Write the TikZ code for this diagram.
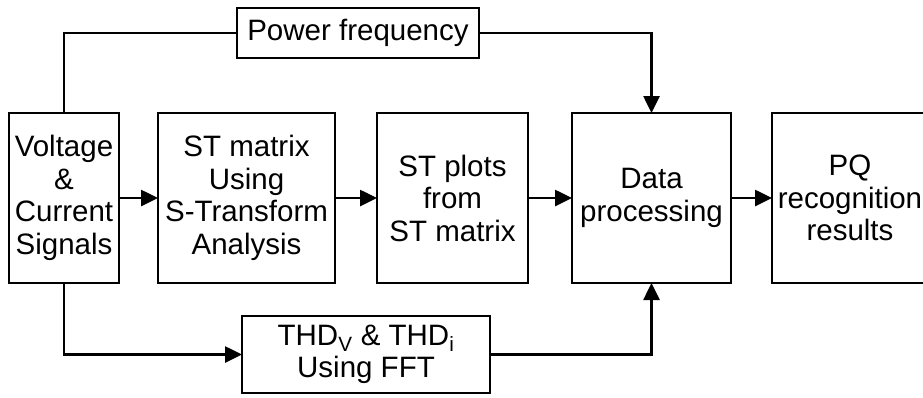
\documentclass[tikz,border=0pt]{standalone}
\usepackage{fontspec}
\setmainfont{Liberation Sans}
\usetikzlibrary{arrows.meta}

\begin{document}
\begin{tikzpicture}[x=1pt, y=-1pt,
    blk/.style={draw, line width=2.6pt, align=center, inner sep=0pt, outer sep=0pt,
        font=\fontsize{29.5}{32.5}\selectfont},
    flow/.style={line width=2.6pt, -{Triangle[length=17pt,width=16pt]}},
    link/.style={line width=2.6pt}]
    \useasboundingbox (0,0) rectangle (923,397);

    % Main chain
    \node[blk, minimum width=110pt, minimum height=170pt] (volt) at (64,198) {Voltage\\\&\\Current\\Signals};
    \node[blk, minimum width=177pt, minimum height=170pt] (stmat) at (246.5,198) {ST matrix\\Using\\S-Transform\\Analysis};
    \node[blk, minimum width=151pt, minimum height=170pt] (stplot) at (452.5,198) {ST plots\\from\\ST matrix};
    \node[blk, minimum width=159pt, minimum height=170pt] (dproc) at (651.5,198) {Data\\processing};
    \node[blk, minimum width=156pt, minimum height=170pt] (pqres) at (850,198) {PQ\\recognition\\results};

    % Side branches
    \node[blk, minimum width=242pt, minimum height=50pt] (pwrf) at (358,33) {Power frequency};
    \node[blk, minimum width=248pt, minimum height=77pt] (thd) at (366,354.5) {THD\textsubscript{V} \& THD\textsubscript{i}\\Using FFT};

    % Arrows
    \draw[flow] (volt) -- (stmat);
    \draw[flow] (stmat) -- (stplot);
    \draw[flow] (stplot) -- (dproc);
    \draw[flow] (dproc) -- (pqres);

    \draw[link] (volt.north) |- (pwrf.west);
    \draw[flow] (pwrf.east) -| (dproc.north);
    \draw[flow] (volt.south) |- (thd.west);
    \draw[flow] (thd.east) -| (dproc.south);
\end{tikzpicture}
\end{document}
